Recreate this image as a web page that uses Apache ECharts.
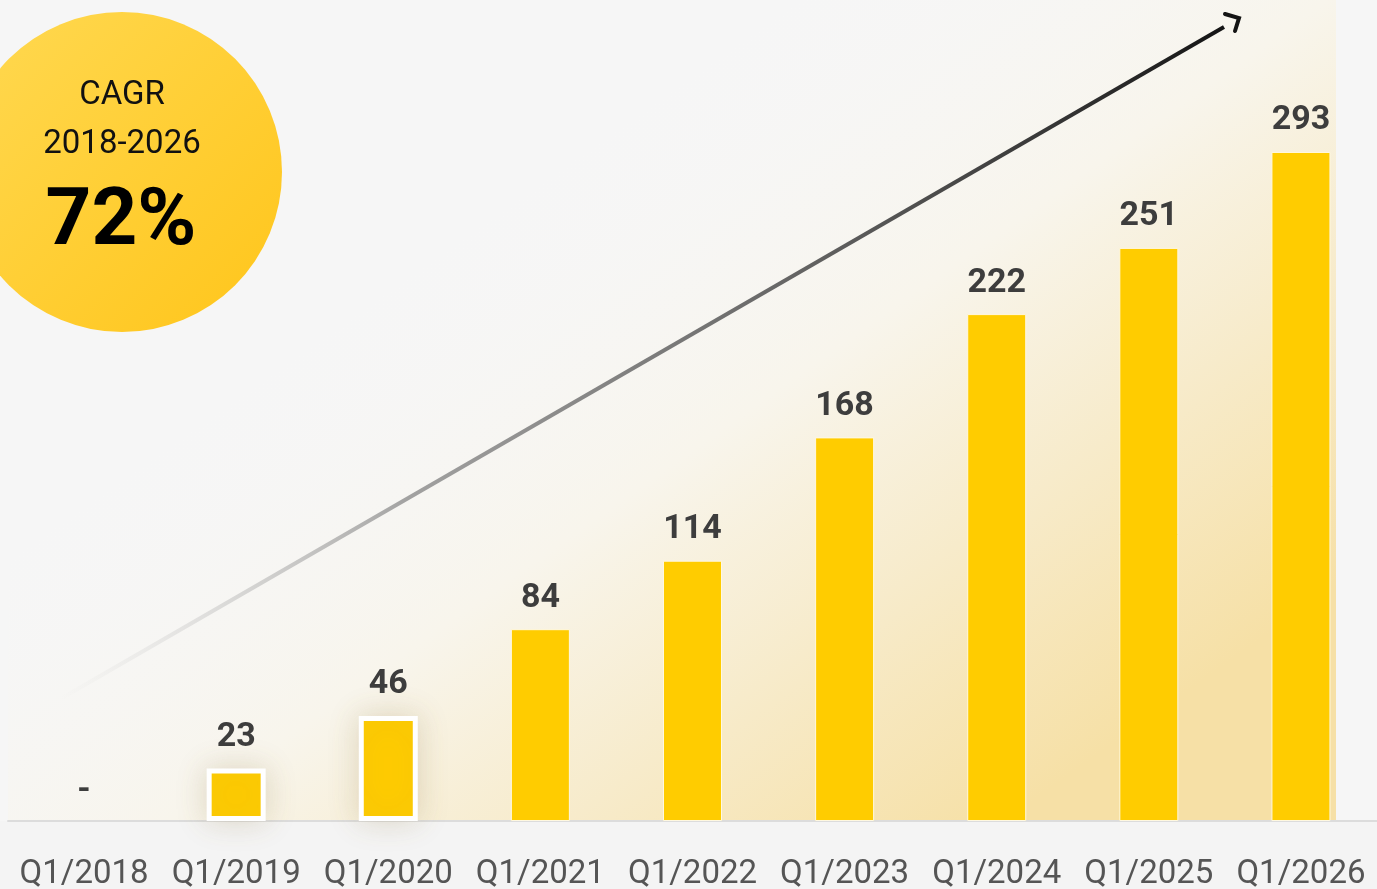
<!DOCTYPE html>
<html>
<head>
<meta charset="utf-8">
<script src="https://cdn.jsdelivr.net/npm/echarts@6/dist/echarts.min.js"></script>
<style>
  html, body { margin: 0; padding: 0; background: #f4f4f4; }
  #chart { width: 1377px; height: 889px; }
</style>
</head>
<body>
<div id="chart"></div>
<script>
const categories = ['Q1/2018', 'Q1/2019', 'Q1/2020', 'Q1/2021', 'Q1/2022', 'Q1/2023', 'Q1/2024', 'Q1/2025', 'Q1/2026']
const values = [0, 23, 46, 84, 114, 168, 222, 251, 293]
const highlighted = ['Q1/2019', 'Q1/2020']

const chart = echarts.init(document.getElementById('chart'))

const baseY = 821

const option = {
  backgroundColor: '#f4f4f4',
  animation: false,
  grid: {
    left: 8,
    right: 0,
    top: 136,
    bottom: 889 - baseY,
    outerBoundsMode: 'none'
  },
  xAxis: {
    type: 'category',
    data: categories,
    axisLine: { show: true, lineStyle: { color: '#dcdcdc', width: 2 } },
    axisTick: { show: false },
    axisLabel: {
      interval: 0,
      margin: 37,
      fontFamily: 'Roboto',
      fontSize: 33,
      color: '#555555'
    }
  },
  yAxis: {
    type: 'value',
    min: 0,
    max: 300,
    show: false,
    splitLine: { show: false }
  },
  graphic: [
    {
      type: 'rect',
      z: -11,
      silent: true,
      shape: { x: 0, y: 0, width: 1377, height: baseY },
      style: { fill: '#f6f6f6' }
    },
    {
      type: 'rect',
      z: -10,
      silent: true,
      shape: { x: 8, y: 0, width: 1328, height: baseY },
      style: {
        fill: new echarts.graphic.LinearGradient(0.4, 0.2, 0.75, 1, [
          { offset: 0, color: 'rgba(247,247,247,0)' },
          { offset: 0.4, color: '#f8f5ec' },
          { offset: 1, color: '#f6e0a6' }
        ])
      }
    },
    {
      type: 'polyline',
      z: 5,
      silent: true,
      shape: { points: [[62, 698], [1224, 27]] },
      style: {
        lineWidth: 4,
        stroke: new echarts.graphic.LinearGradient(0, 1, 1, 0, [
          { offset: 0, color: 'rgba(200,200,200,0)' },
          { offset: 0.3, color: 'rgba(140,140,140,0.8)' },
          { offset: 1, color: '#141414' }
        ])
      }
    },
    {
      type: 'polyline',
      z: 5,
      silent: true,
      shape: { points: [[1225, 14], [1239, 18], [1235, 31]] },
      style: { lineWidth: 4, stroke: '#141414', lineCap: 'round', lineJoin: 'miter', fill: null }
    },
    {
      type: 'circle',
      z: 6,
      silent: true,
      shape: { cx: 122, cy: 172, r: 160 },
      style: {
        fill: new echarts.graphic.LinearGradient(0, 0, 1, 1, [
          { offset: 0, color: '#ffd952' },
          { offset: 1, color: '#ffc51a' }
        ])
      }
    },
    {
      type: 'text',
      z: 7,
      silent: true,
      x: 122,
      y: 96,
      style: {
        text: 'CAGR',
        fontFamily: 'Roboto',
        fontSize: 33,
        fill: '#111111',
        align: 'center',
        verticalAlign: 'middle'
      }
    },
    {
      type: 'text',
      z: 7,
      silent: true,
      x: 122,
      y: 145,
      style: {
        text: '2018-2026',
        fontFamily: 'Roboto',
        fontSize: 33,
        fill: '#111111',
        align: 'center',
        verticalAlign: 'middle'
      }
    },
    {
      type: 'text',
      z: 7,
      silent: true,
      x: 121,
      y: 224,
      style: {
        text: '72%',
        fontFamily: 'Roboto',
        fontWeight: 'bold',
        fontSize: 80,
        fill: '#000000',
        align: 'center',
        verticalAlign: 'middle'
      }
    }
  ],
  series: [
    {
      type: 'bar',
      barWidth: 59,
      data: values.map((v, i) => {
        const hl = highlighted.includes(categories[i])
        let style = { color: '#ffcc00', borderColor: '#fff8e0', borderWidth: v === 0 ? 0 : 1 }
        if (hl) {
          style = { color: '#ffcc00', borderColor: '#ffffff', borderWidth: 5, shadowBlur: 30, shadowColor: 'rgba(150,130,80,0.25)' }
        }
        return { value: v, itemStyle: style }
      }),
      label: {
        show: true,
        position: 'top',
        distance: 14,
        fontFamily: 'Roboto',
        fontWeight: 'bold',
        fontSize: 34,
        color: '#3d3d3d',
        formatter: p => (p.value === 0 ? '-' : p.value)
      }
    }
  ]
}

chart.setOption(option)
</script>
</body>
</html>
